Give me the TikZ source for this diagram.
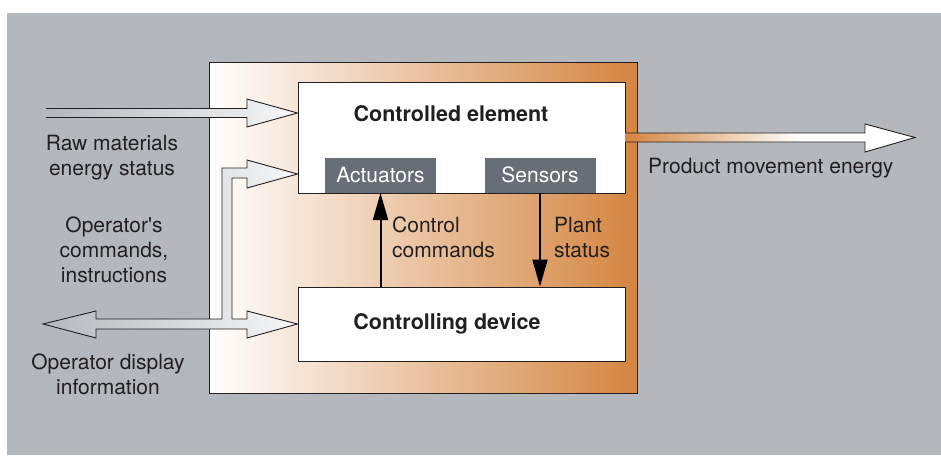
\documentclass[tikz,border=0pt]{standalone}
\usepackage{fontspec}
\setmainfont{TeX Gyre Heros}
\usetikzlibrary{arrows.meta,calc}
\definecolor{bggray}{RGB}{180,184,188}
\definecolor{boxorange}{RGB}{212,133,64}
\definecolor{slate}{RGB}{104,110,120}
\definecolor{ink}{RGB}{35,31,32}
\definecolor{pale}{RGB}{246,247,248}
\pgfdeclarehorizontalshading{prodfade}{100bp}{color(0bp)=(boxorange); color(25bp)=(boxorange); color(55bp)=(white); color(100bp)=(white)}
\tikzset{
  every node/.style={font=\fontsize{21}{25}\selectfont, text=ink},
  block/.style={draw=ink, line width=1pt, fill=white, minimum width=327pt, inner sep=0pt},
  tag/.style={fill=slate, text=white, minimum width=111pt, minimum height=35pt, inner sep=0pt},
  title/.style={font=\fontsize{21.5}{25}\selectfont\bfseries, anchor=base},
  note/.style={align=center, anchor=north, inner sep=0pt},
  ctrl/.style={draw=black, line width=2pt, -{Triangle[length=27pt,width=15pt]}},
  hollow/.style={draw=ink, line width=0.9pt}
}
\begin{document}
\begin{tikzpicture}[x=1pt, y=-1pt]
\useasboundingbox (0,0) rectangle (941,455);
\fill[white] (0,0) rectangle (941,455);
\fill[bggray] (7,13) rectangle (941,455);

\shadedraw[left color=white, right color=boxorange, draw=ink, line width=1pt] (209,62) rectangle (637,393);

\node[block, minimum height=111pt] (ce) at (461.5,137.5) {};
\node[block, minimum height=74pt] (cd) at (461.5,324) {};
\node[title] (cetitle) at (451,121) {Controlled element};
\node[title] (cdtitle) at (447,329) {Controlling device};

\node[tag, anchor=south] (act) at ($(ce.south -| 380.5,0)+(0,-0.5)$) {Actuators};
\node[tag, anchor=south] (sens) at ($(ce.south -| 540,0)+(0,-0.5)$) {Sensors};

\draw[ctrl] (cd.north -| act.south) -- (act.south);
\draw[ctrl] (sens.south) -- (sens.south |- cd.north);
\node[note, align=left, anchor=north west] (ctrllbl) at (392,217) {Control\\commands};
\node[note, align=left, anchor=north west] (plantlbl) at (554,217) {Plant\\status};

\shade[shading=prodfade] (ce.east |- 0,133) -- (865,133) -- (865,124) -- (915,137.5) -- (865,152) -- (865,142) -- (ce.east |- 0,142) -- cycle;
\draw[hollow] (ce.east |- 0,133) -- (865,133) -- (865,124) -- (915,137.5) -- (865,152) -- (865,142) -- (ce.east |- 0,142);
\node[note, anchor=north west] (prodlbl) at (648,157.5) {Product movement energy};

\shade[left color=bggray, right color=pale] (46,108.5) -- (247,108.5) -- (247,99) -- (ce.west |- 0,113) -- (247,127) -- (247,117.5) -- (46,117.5) -- cycle;
\draw[hollow] (46,108.5) -- (247,108.5) -- (247,99) -- (ce.west |- 0,113) -- (247,127) -- (247,117.5) -- (46,117.5);
\node[note] (rawlbl) at (112,134.5) {Raw materials\\energy status};

\shadedraw[hollow, left color=bggray, right color=pale] (43,324) -- (96,311) -- (96,319) -- (222,319) -- (222,168) -- (247,168) -- (247,160) -- (ce.west |- 0,174) -- (247,188) -- (247,178) -- (232,178) -- (232,319) -- (247,319) -- (247,311) -- (cd.west) -- (247,338) -- (247,329) -- (96,329) -- (96,338) -- cycle;
\node[note] (oplbl) at (114,217) {Operator\textquotesingle s\\commands,\\instructions};
\node[note] (displbl) at (108,353.5) {Operator display\\information};
\end{tikzpicture}
\end{document}
